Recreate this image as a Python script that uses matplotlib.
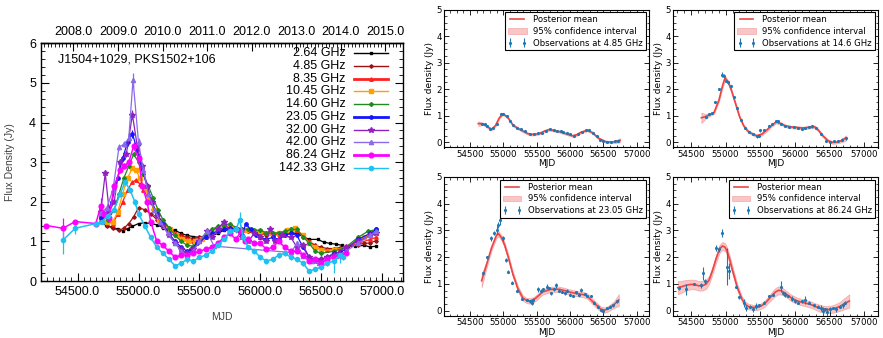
import matplotlib
matplotlib.use('Agg')
import matplotlib.pyplot as plt
from matplotlib.ticker import MultipleLocator, FormatStrFormatter, FixedLocator

# ---------------- Left panel data: (MJD, flux density [Jy], error [Jy]) ----------------
freq_labels = ['2.64 GHz', '4.85 GHz', '8.35 GHz', '10.45 GHz', '14.60 GHz',
               '23.05 GHz', '32.00 GHz', '42.00 GHz', '86.24 GHz', '142.33 GHz']

obs_264 = [(54690,1.48,.02),(54730,1.42,.02),(54780,1.36,.02),(54830,1.31,.02),(54870,1.27,.02),
           (54910,1.32,.02),(54950,1.38,.02),(55000,1.45,.02),(55050,1.47,.02),(55100,1.45,.02),
           (55150,1.42,.02),(55200,1.35,.02),(55250,1.30,.02),(55300,1.28,.02),(55350,1.20,.02),
           (55400,1.15,.02),(55450,1.12,.02),(55500,1.10,.02),(55550,1.12,.02),(55600,1.15,.02),
           (55650,1.20,.02),(55700,1.28,.02),(55750,1.30,.02),(55800,1.28,.02),(55850,1.25,.02),
           (55900,1.25,.02),(55950,1.22,.02),(56000,1.22,.02),(56050,1.20,.02),(56100,1.18,.02),
           (56150,1.18,.02),(56200,1.20,.02),(56250,1.22,.02),(56300,1.20,.02),(56350,1.12,.02),
           (56400,1.05,.02),(56470,1.05,.02),(56520,0.98,.02),(56570,0.95,.02),(56620,0.93,.02),
           (56670,0.90,.02),(56720,0.88,.02),(56780,0.88,.02),(56850,0.90,.02),(56900,0.86,.02),
           (56950,0.88,.02)]
obs_485 = [(54690,1.50,.02),(54740,1.40,.02),(54790,1.33,.02),(54840,1.28,.02),(54880,1.33,.02),
           (54920,1.45,.02),(54960,1.62,.02),(55000,1.85,.02),(55050,1.80,.02),(55100,1.70,.02),
           (55150,1.55,.02),(55200,1.40,.02),(55250,1.30,.02),(55300,1.22,.02),(55350,1.15,.02),
           (55400,1.10,.02),(55450,1.07,.02),(55500,1.10,.02),(55550,1.15,.02),(55600,1.20,.02),
           (55650,1.25,.02),(55700,1.32,.02),(55750,1.35,.02),(55800,1.30,.02),(55850,1.27,.02),
           (55900,1.25,.02),(55950,1.22,.02),(56000,1.20,.02),(56050,1.17,.02),(56100,1.15,.02),
           (56150,1.18,.02),(56200,1.22,.02),(56250,1.30,.02),(56300,1.25,.02),(56350,1.12,.02),
           (56400,1.00,.02),(56450,0.90,.02),(56500,0.85,.02),(56550,0.82,.02),(56600,0.82,.02),
           (56650,0.84,.02),(56700,0.86,.02),(56800,0.92,.02),(56850,0.95,.02),(56900,0.96,.02),
           (56950,1.02,.02)]
obs_835 = [(54690,1.55,.02),(54740,1.50,.02),(54790,1.45,.02),(54830,1.70,.03),(54870,2.00,.03),
           (54910,2.30,.03),(54950,2.50,.03),(54980,2.55,.03),(55010,2.45,.03),(55040,2.30,.03),
           (55080,2.10,.03),(55120,1.85,.03),(55160,1.60,.02),(55200,1.45,.02),(55250,1.35,.02),
           (55300,1.20,.02),(55350,1.12,.02),(55400,1.05,.02),(55450,1.02,.02),(55500,1.05,.02),
           (55550,1.12,.02),(55600,1.15,.02),(55650,1.25,.02),(55700,1.35,.02),(55750,1.40,.02),
           (55800,1.35,.02),(55850,1.30,.02),(55900,1.28,.02),(55950,1.25,.02),(56000,1.22,.02),
           (56050,1.20,.02),(56100,1.18,.02),(56150,1.18,.02),(56200,1.22,.02),(56250,1.30,.02),
           (56300,1.28,.02),(56350,1.15,.02),(56400,0.98,.02),(56450,0.85,.02),(56500,0.80,.02),
           (56550,0.78,.02),(56600,0.80,.02),(56650,0.82,.02),(56700,0.85,.02),(56800,0.95,.02),
           (56900,1.05,.02),(56950,1.10,.02)]
obs_1045 = [(54690,1.60,.03),(54740,1.50,.03),(54790,1.50,.03),(54830,1.75,.03),(54870,2.20,.03),
            (54910,2.60,.04),(54950,2.85,.04),(54980,2.80,.04),(55010,2.60,.04),(55050,2.35,.03),
            (55090,2.10,.03),(55130,1.80,.03),(55170,1.55,.03),(55210,1.40,.03),(55260,1.30,.03),
            (55310,1.15,.03),(55360,1.05,.03),(55410,1.00,.03),(55460,1.00,.03),(55520,1.05,.03),
            (55580,1.15,.03),(55640,1.28,.03),(55700,1.38,.03),(55760,1.35,.03),(55800,1.30,.03),
            (55880,1.28,.03),(55950,1.25,.03),(56000,1.25,.03),(56080,1.22,.03),(56150,1.22,.03),
            (56220,1.28,.03),(56280,1.35,.03),(56350,1.15,.03),(56400,0.95,.03),(56450,0.85,.03),
            (56500,0.78,.03),(56600,0.78,.03),(56700,0.85,.03),(56850,1.10,.03),(56950,1.20,.03)]
obs_1460 = [(54690,1.65,.03),(54750,1.55,.03),(54800,1.80,.03),(54840,2.20,.03),(54880,2.60,.04),
            (54920,2.90,.04),(54960,3.20,.05),(55000,3.00,.04),(55040,2.70,.04),(55080,2.40,.03),
            (55120,2.10,.03),(55160,1.80,.03),(55200,1.55,.03),(55250,1.35,.03),(55300,1.15,.03),
            (55350,1.00,.03),(55400,0.90,.03),(55450,0.88,.03),(55500,1.00,.03),(55550,1.15,.03),
            (55600,1.30,.03),(55650,1.38,.03),(55700,1.40,.03),(55750,1.45,.03),(55800,1.35,.03),
            (55850,1.32,.03),(55900,1.30,.03),(55950,1.28,.03),(56000,1.28,.03),(56050,1.22,.03),
            (56100,1.20,.03),(56150,1.22,.03),(56200,1.25,.03),(56250,1.30,.03),(56300,1.30,.03),
            (56350,1.12,.03),(56400,0.95,.03),(56450,0.75,.03),(56500,0.70,.03),(56600,0.75,.03),
            (56700,0.85,.03),(56800,1.10,.03),(56880,1.25,.03),(56950,1.30,.03)]
obs_2305 = [(54690,1.60,.03),(54740,1.70,.03),(54780,2.00,.04),(54830,2.60,.05),(54870,3.10,.06),
            (54910,3.50,.08),(54950,3.72,.10),(54990,3.30,.08),(55030,2.80,.06),(55070,2.40,.05),
            (55110,2.00,.04),(55150,1.70,.04),(55200,1.45,.03),(55250,1.20,.03),(55300,1.00,.03),
            (55350,0.85,.03),(55400,0.75,.03),(55430,0.80,.03),(55480,0.95,.03),(55550,1.10,.03),
            (55600,1.20,.03),(55650,1.25,.03),(55700,1.30,.03),(55750,1.35,.03),(55800,1.30,.03),
            (55850,1.15,.03),(55880,1.45,.04),(55920,1.30,.03),(55960,1.15,.03),(56000,1.10,.03),
            (56050,1.05,.03),(56100,1.10,.03),(56150,1.05,.03),(56200,1.15,.03),(56250,1.20,.03),
            (56300,1.15,.03),(56350,0.85,.03),(56400,0.60,.03),(56450,0.55,.03),(56500,0.55,.03),
            (56550,0.60,.03),(56600,0.70,.03),(56650,0.72,.03),(56700,0.80,.03),(56800,1.05,.03),
            (56900,1.20,.03),(56950,1.30,.03)]
obs_3200 = [(54690,1.75,.05),(54727,2.72,.08),(54760,1.75,.05),(54800,2.00,.05),(54850,3.00,.08),
            (54900,3.20,.08),(54950,4.20,.12),(54990,3.40,.10),(55030,2.90,.08),(55070,2.40,.06),
            (55110,2.00,.05),(55150,1.65,.05),(55200,1.40,.05),(55250,1.15,.05),(55300,0.95,.05),
            (55350,0.80,.05),(55400,0.70,.05),(55450,0.80,.05),(55500,1.00,.05),(55560,1.25,.05),
            (55600,1.10,.05),(55650,1.30,.05),(55700,1.50,.05),(55750,1.25,.05),(55800,1.30,.05),
            (55850,1.10,.05),(55900,1.00,.05),(55950,1.20,.05),(56000,1.10,.05),(56050,1.00,.05),
            (56080,1.30,.10),(56120,1.00,.05),(56180,1.15,.05),(56250,1.10,.05),(56300,0.85,.05),
            (56350,0.90,.05),(56400,0.60,.05),(56450,0.50,.05),(56500,0.55,.05),(56550,0.60,.05),
            (56600,0.65,.05),(56700,0.85,.05),(56800,1.00,.05),(56900,1.15,.05),(56950,1.20,.05)]
obs_4200 = [(54690,1.72,.05),(54740,1.85,.05),(54790,2.30,.05),(54840,3.38,.08),(54880,3.45,.08),
            (54920,3.60,.10),(54955,5.08,.18),(55000,3.50,.10),(55040,2.80,.08),(55080,2.20,.06),
            (55130,1.80,.05),(55180,1.50,.05),(55240,1.20,.05),(55300,0.95,.05),(55350,0.75,.05),
            (55400,0.65,.05),(55450,0.75,.05),(55500,1.00,.05),(55560,1.25,.05),(55620,0.88,.05),
            (56250,0.72,.05),(56300,0.95,.05),(56350,0.62,.05),(56420,0.50,.05),(56480,0.45,.05),
            (56550,0.55,.05),(56620,0.62,.05),(56700,0.75,.05),(56800,0.95,.05),(56900,1.15,.05),
            (56950,1.25,.05)]
obs_8624 = [(54245,1.40,.05),(54380,1.33,.25),(54480,1.50,.04),(54650,1.45,.05),(54690,1.90,.20),
            (54720,1.70,.08),(54760,1.60,.08),(54800,2.40,.08),(54850,2.80,.08),(54880,2.90,.08),
            (54920,3.00,.08),(54960,3.40,.10),(55000,3.10,.08),(55030,2.40,.08),(55070,2.00,.06),
            (55100,1.50,.05),(55150,1.00,.05),(55200,0.90,.05),(55250,0.75,.05),(55300,0.60,.05),
            (55350,0.65,.05),(55400,0.65,.05),(55450,0.70,.05),(55500,0.75,.05),(55550,0.80,.05),
            (55600,0.85,.05),(55650,0.95,.05),(55700,1.10,.05),(55750,1.20,.05),(55800,1.05,.05),
            (55840,1.25,.08),(55870,1.00,.05),(55900,1.05,.05),(55950,0.95,.05),(56000,0.95,.05),
            (56050,0.80,.05),(56100,0.85,.05),(56150,1.00,.05),(56200,0.85,.05),(56250,0.75,.05),
            (56300,0.75,.05),(56350,0.65,.05),(56400,0.50,.05),(56450,0.55,.05),(56500,0.45,.05),
            (56550,0.55,.05),(56600,0.60,.05),(56650,0.65,.05),(56700,0.70,.05)]
obs_14233 = [(54380,1.03,.35),(54480,1.33,.15),(54650,1.45,.05),(54700,1.50,.05),(54750,1.65,.05),
             (54800,1.80,.06),(54850,2.20,.08),(54890,2.50,.10),(54930,2.30,.08),(54970,2.00,.08),
             (55000,1.70,.08),(55050,1.40,.06),(55100,1.10,.06),(55150,0.85,.05),(55200,0.70,.05),
             (55250,0.55,.05),(55300,0.38,.06),(55350,0.45,.06),(55400,0.55,.10),(55450,0.50,.06),
             (55500,0.60,.05),(55550,0.65,.05),(55600,0.75,.05),(55650,0.90,.05),(55700,1.05,.05),
             (55750,1.25,.08),(55800,1.30,.08),(55830,1.55,.18),(55860,1.10,.08),(55900,0.85,.06),
             (55950,0.75,.06),(56000,0.60,.06),(56050,0.50,.06),(56100,0.55,.06),(56150,0.65,.06),
             (56200,0.70,.06),(56250,0.60,.06),(56300,0.55,.06),(56350,0.45,.06),(56400,0.25,.06),
             (56450,0.30,.06),(56500,0.35,.06),(56550,0.45,.06),(56600,0.50,.30),(56650,0.65,.20),
             (56680,0.60,.08)]

left_series = [obs_264, obs_485, obs_835, obs_1045, obs_1460,
               obs_2305, obs_3200, obs_4200, obs_8624, obs_14233]

# ---------------- Right panels: GP posterior (MJD, mean, 95% half-width) and observations ----------------
gp_485 = [(54624,0.70,0.09),(54698,0.69,0.04),(54760,0.58,0.04),(54822,0.49,0.04),(54880,0.62,0.04),
          (54940,0.92,0.04),(54996,1.07,0.04),(55070,0.92,0.04),(55145,0.64,0.04),(55220,0.52,0.04),
          (55293,0.42,0.04),(55360,0.33,0.04),(55417,0.29,0.04),(55480,0.30,0.04),(55541,0.33,0.04),
          (55620,0.42,0.04),(55690,0.48,0.04),(55760,0.44,0.04),(55839,0.40,0.04),(55938,0.32,0.04),
          (56037,0.24,0.04),(56100,0.28,0.04),(56161,0.37,0.04),(56260,0.45,0.04),(56335,0.36,0.04),
          (56434,0.14,0.04),(56533,0.02,0.04),(56633,0.00,0.04),(56707,0.04,0.06),(56750,0.07,0.08)]
pts_485 = [(54680,0.70,.03),(54720,0.68,.03),(54760,0.60,.03),(54800,0.50,.03),(54850,0.52,.03),
           (54900,0.70,.03),(54960,1.05,.03),(55000,1.06,.03),(55050,0.98,.03),(55100,0.80,.03),
           (55150,0.65,.03),(55200,0.55,.03),(55260,0.48,.03),(55320,0.42,.03),(55400,0.30,.03),
           (55460,0.30,.03),(55520,0.33,.03),(55580,0.36,.03),(55640,0.42,.03),(55700,0.50,.03),
           (55760,0.45,.03),(55800,0.44,.03),(55860,0.43,.03),(55900,0.40,.03),(55960,0.33,.03),
           (56000,0.30,.03),(56060,0.25,.03),(56120,0.30,.03),(56180,0.38,.03),(56240,0.45,.03),
           (56280,0.45,.03),(56340,0.35,.03),(56400,0.22,.03),(56450,0.10,.03),(56500,0.05,.03),
           (56560,0.02,.03),(56620,0.02,.03),(56680,0.03,.03),(56720,0.05,.03)]

gp_1460 = [(54650,0.92,0.20),(54714,0.97,0.08),(54780,1.05,0.05),(54833,1.12,0.05),(54905,1.60,0.06),
           (54952,2.10,0.08),(54990,2.42,0.08),(55040,2.25,0.07),(55090,1.90,0.06),(55143,1.45,0.05),
           (55200,0.97,0.05),(55260,0.62,0.05),(55320,0.42,0.05),(55381,0.32,0.05),(55450,0.24,0.05),
           (55520,0.30,0.05),(55590,0.45,0.05),(55667,0.64,0.05),(55730,0.76,0.05),(55800,0.70,0.05),
           (55857,0.62,0.05),(55930,0.58,0.05),(56000,0.56,0.05),(56080,0.54,0.05),(56143,0.54,0.05),
           (56220,0.57,0.05),(56286,0.58,0.05),(56340,0.45,0.05),(56400,0.25,0.05),(56476,0.06,0.05),
           (56540,-0.01,0.05),(56600,0.00,0.05),(56666,0.05,0.06),(56738,0.16,0.10)]
pts_1460 = [(54720,0.95,.04),(54760,1.05,.04),(54800,1.10,.04),(54850,1.50,.04),(54900,2.00,.05),
            (54950,2.55,.10),(54975,2.50,.06),(55000,2.30,.05),(55040,2.25,.05),(55080,2.10,.05),
            (55120,1.70,.04),(55170,1.30,.04),(55220,0.85,.04),(55280,0.55,.04),(55340,0.40,.04),
            (55400,0.30,.04),(55450,0.22,.06),(55480,0.25,.04),(55500,0.45,.06),(55550,0.45,.04),
            (55620,0.60,.04),(55670,0.70,.04),(55720,0.80,.05),(55760,0.78,.04),(55800,0.70,.04),
            (55860,0.60,.04),(55920,0.58,.04),(55980,0.58,.04),(56040,0.52,.04),(56100,0.50,.04),
            (56150,0.55,.04),(56200,0.58,.04),(56250,0.60,.05),(56300,0.55,.04),(56380,0.30,.04),
            (56450,0.05,.04),(56500,0.00,.04),(56560,0.05,.05),(56620,0.05,.04),(56680,0.10,.04),
            (56740,0.15,.05)]

gp_2305 = [(54674,1.12,0.25),(54748,1.72,0.12),(54823,2.35,0.10),(54897,2.82,0.10),(54930,2.87,0.10),
           (54975,2.72,0.10),(55020,2.45,0.10),(55070,2.04,0.10),(55145,1.35,0.10),(55219,0.82,0.10),
           (55293,0.47,0.10),(55350,0.38,0.10),(55393,0.36,0.10),(55450,0.40,0.10),(55492,0.48,0.10),
           (55591,0.70,0.10),(55716,0.80,0.10),(55839,0.80,0.10),(55920,0.75,0.10),(55988,0.70,0.10),
           (56060,0.66,0.10),(56137,0.62,0.10),(56200,0.60,0.10),(56260,0.54,0.10),(56360,0.29,0.10),
           (56460,0.06,0.10),(56510,0.02,0.10),(56559,0.05,0.10),(56658,0.22,0.12),(56732,0.40,0.22)]
pts_2305 = [(54700,1.40,.06),(54760,2.00,.06),(54810,2.70,.08),(54860,2.90,.08),(54900,3.00,.15),
            (54920,3.20,.10),(54950,3.40,.20),(54990,2.70,.08),(55040,1.90,.08),(55070,1.45,.06),
            (55130,1.05,.05),(55200,0.75,.05),(55280,0.45,.05),(55350,0.40,.05),(55400,0.35,.05),
            (55430,0.30,.10),(55450,0.40,.06),(55520,0.80,.10),(55560,0.75,.05),(55600,0.80,.05),
            (55650,0.90,.10),(55680,0.85,.05),(55720,0.65,.06),(55760,0.80,.05),(55790,0.95,.10),
            (55840,0.75,.06),(55880,0.70,.05),(55920,0.65,.05),(55960,0.75,.05),(56000,0.60,.05),
            (56050,0.55,.05),(56090,0.68,.05),(56140,0.60,.05),(56170,0.78,.08),(56220,0.62,.05),
            (56260,0.55,.05),(56310,0.55,.05),(56360,0.30,.05),(56420,0.15,.05),(56460,0.02,.05),
            (56500,0.00,.08),(56560,0.10,.05),(56600,0.15,.05),(56640,0.20,.05),(56700,0.35,.05)]

gp_8624 = [(54309,0.86,0.25),(54370,0.90,0.22),(54429,0.95,0.20),(54490,0.98,0.18),(54548,0.98,0.18),
           (54610,0.93,0.18),(54666,0.93,0.18),(54720,1.00,0.18),(54762,1.15,0.15),(54810,1.50,0.15),
           (54857,1.90,0.15),(54910,2.30,0.15),(54952,2.42,0.15),(54990,2.38,0.15),(55024,2.20,0.15),
           (55060,1.90,0.15),(55095,1.55,0.15),(55167,0.88,0.12),(55238,0.42,0.10),(55290,0.22,0.10),
           (55333,0.15,0.10),(55400,0.12,0.10),(55452,0.12,0.10),(55510,0.17,0.10),(55571,0.28,0.12),
           (55620,0.42,0.12),(55667,0.56,0.14),(55720,0.70,0.15),(55762,0.76,0.15),(55800,0.75,0.15),
           (55857,0.66,0.12),(55910,0.55,0.12),(55952,0.47,0.12),(56030,0.37,0.12),(56095,0.32,0.12),
           (56170,0.27,0.12),(56238,0.22,0.12),(56300,0.15,0.12),(56357,0.09,0.13),(56420,0.05,0.13),
           (56476,0.04,0.13),(56540,0.06,0.14),(56595,0.10,0.15),(56650,0.16,0.17),(56700,0.24,0.20),
           (56786,0.36,0.25)]
pts_8624 = [(54320,0.85,.08),(54430,0.80,.20),(54550,1.00,.05),(54640,0.95,.10),(54670,1.40,.25),
            (54700,1.10,.10),(54860,2.35,.10),(54900,2.30,.10),(54950,2.90,.15),(55020,1.65,.70),
            (55050,1.50,.30),(55150,0.90,.05),(55200,0.50,.05),(55270,0.30,.15),(55300,0.10,.10),
            (55350,0.15,.05),(55400,0.05,.10),(55440,0.18,.10),(55480,0.20,.05),(55560,0.30,.05),
            (55620,0.55,.05),(55680,0.60,.05),(55800,0.90,.20),(55830,0.65,.05),(55860,0.60,.10),
            (55900,0.55,.05),(55960,0.45,.10),(56000,0.35,.05),(56050,0.30,.05),(56100,0.35,.05),
            (56150,0.40,.15),(56200,0.30,.05),(56270,0.20,.05),(56330,0.15,.05),(56370,0.10,.10),
            (56400,0.00,.15),(56430,0.05,.05),(56470,-0.05,.15),(56500,0.05,.10),(56550,0.10,.05),
            (56600,0.05,.10),(56650,0.15,.05),(56700,0.20,.10),(56730,0.30,.05)]

gp_labels = ['4.85 GHz', '14.6 GHz', '23.05 GHz', '86.24 GHz']
gp_curves = [gp_485, gp_1460, gp_2305, gp_8624]
gp_points = [pts_485, pts_1460, pts_2305, pts_8624]

# ---------------- Figure ----------------
W, H = 883, 338
fig = plt.figure(figsize=(W / 100, H / 100), dpi=100)

def rect(l, t, r, b):
    return [l / W, 1 - b / H, (r - l) / W, (b - t) / H]

LFONT = ['Liberation Sans', 'DejaVu Sans']
styles = [('#000000', 's', 2.0, 0.9), ('#a01010', 'D', 1.8, 0.9), ('#ff2020', '^', 2.5, 0.9),
          ('#ffa000', 's', 2.5, 0.9), ('#208a20', 'D', 2.0, 0.9), ('#1515ff', 'o', 2.4, 0.9),
          ('#9020c0', '*', 3.8, 0.9), ('#8a6ae8', '^', 3.0, 0.9), ('#ff00ff', 'o', 3.4, 1.1),
          ('#20c0f0', 'o', 3.0, 1.1)]
legend_lw = [1.0, 1.0, 2.0, 1.0, 1.0, 2.0, 1.0, 1.0, 2.0, 1.0]

ax = fig.add_axes(rect(41, 43.3, 403, 281))
for data, (c, mk, ms, lw) in zip(left_series, styles):
    xs = [d[0] for d in data]
    ys = [d[1] for d in data]
    es = [d[2] for d in data]
    ax.errorbar(xs, ys, yerr=es, color=c, marker=mk, ms=ms, mec=c, mfc=c, lw=lw,
                elinewidth=0.9, capsize=0)
ax.set_xlim(54200, 57170)
ax.set_ylim(0, 6)
ax.xaxis.set_major_locator(FixedLocator([54500, 55000, 55500, 56000, 56500, 57000]))
ax.xaxis.set_major_formatter(FormatStrFormatter('%.1f'))
ax.xaxis.set_minor_locator(MultipleLocator(50))
ax.yaxis.set_major_locator(MultipleLocator(1))
ax.yaxis.set_minor_locator(MultipleLocator(0.2))
ax.tick_params(which='both', direction='in', top=False, right=True, labelsize=9)
ax.tick_params(which='major', length=6, width=0.8)
ax.tick_params(which='minor', length=3, width=0.6)
for t in ax.get_xticklabels() + ax.get_yticklabels():
    t.set_family(LFONT)
ax.set_xlabel('MJD', fontsize=7.5, family=LFONT, color='#404040', labelpad=10)
ax.set_ylabel('Flux Density (Jy)', fontsize=7.5, family=LFONT, color='#404040', labelpad=10)
for s in ax.spines.values():
    s.set_linewidth(1.0)

def mjd2yr(m):
    return 2000.0 + (m - 51544.5) / 365.25

def yr2mjd(y):
    return 51544.5 + (y - 2000.0) * 365.25

sec = ax.secondary_xaxis('top', functions=(mjd2yr, yr2mjd))
sec.xaxis.set_major_locator(FixedLocator([2008, 2009, 2010, 2011, 2012, 2013, 2014, 2015]))
sec.xaxis.set_major_formatter(FormatStrFormatter('%.1f'))
sec.xaxis.set_minor_locator(MultipleLocator(1 / 12))
sec.tick_params(which='both', direction='in', labelsize=9)
sec.tick_params(which='major', length=6, width=0.8)
sec.tick_params(which='minor', length=3, width=0.6)
for t in sec.get_xticklabels():
    t.set_family(LFONT)
sec.spines['top'].set_linewidth(1.0)

ax.text(17.3 / 362, 1 - (60 - 43.3) / 237.7, 'J1504+1029, PKS1502+106', transform=ax.transAxes,
        ha='left', va='center', fontsize=9, family=LFONT)

# manual gnuplot-like key
for i, (lab, (c, mk, ms, lw)) in enumerate(zip(freq_labels, styles)):
    ypx = 53.3 + 12.7 * i
    ay = 1 - (ypx - 43.3) / 237.7
    ax.text((345.7 - 41) / 362, ay, lab, transform=ax.transAxes, ha='right', va='center',
            fontsize=9, family=LFONT)
    ax.plot([(354 - 41) / 362, (388 - 41) / 362], [ay, ay], transform=ax.transAxes,
            color=c, lw=legend_lw[i], clip_on=False)
    ax.plot([(371 - 41) / 362], [ay], transform=ax.transAxes, color=c, marker=mk,
            ms=ms, mec=c, clip_on=False)

# ---------------- Right panels ----------------
rects = [rect(444, 9.5, 649, 147.5), rect(673, 9.5, 878, 147.5),
         rect(444, 177, 649, 316), rect(673, 177, 878, 316)]
xlims = [(54110, 57185), (54240, 57200), (54110, 57185), (54240, 57200)]
RFONT = ['DejaVu Sans']
for r, xl, curve, pts, lab in zip(rects, xlims, gp_curves, gp_points, gp_labels):
    a = fig.add_axes(r)
    cx = [d[0] for d in curve]
    cm = [d[1] for d in curve]
    lo = [d[1] - d[2] for d in curve]
    hi = [d[1] + d[2] for d in curve]
    a.fill_between(cx, lo, hi, color='#f5a0a0', alpha=0.6, lw=0.5, edgecolor='#f08080',
                   label='95% confidence interval')
    a.plot(cx, cm, color='#ee4444', lw=1.2, label='Posterior mean')
    px = [d[0] for d in pts]
    py = [d[1] for d in pts]
    pe = [d[2] for d in pts]
    a.errorbar(px, py, yerr=pe, fmt='.', color='#1f77b4', ms=2.5, elinewidth=0.8, capsize=0,
               label='Observations at ' + lab)
    a.set_xlim(*xl)
    a.set_ylim(-0.2, 5)
    a.xaxis.set_major_locator(FixedLocator([54500, 55000, 55500, 56000, 56500, 57000]))
    a.xaxis.set_minor_locator(MultipleLocator(100))
    a.yaxis.set_major_locator(MultipleLocator(1))
    a.yaxis.set_minor_locator(MultipleLocator(0.25))
    a.tick_params(which='both', direction='in', top=True, right=True, labelsize=6.2, pad=1.5)
    a.tick_params(which='major', length=3.5, width=0.6)
    a.tick_params(which='minor', length=1.8, width=0.5)
    a.set_xlabel('MJD', fontsize=6.5, labelpad=0.5, family=RFONT)
    a.set_ylabel('Flux density (Jy)', fontsize=6.5, labelpad=2, family=RFONT)
    for s in a.spines.values():
        s.set_linewidth(0.8)
    h, l = a.get_legend_handles_labels()
    order = [l.index('Posterior mean'), l.index('95% confidence interval'),
             l.index('Observations at ' + lab)]
    leg = a.legend([h[k] for k in order], [l[k] for k in order], loc='upper right',
                   fontsize=6.1, numpoints=2, fancybox=False, framealpha=1,
                   edgecolor='black', borderaxespad=0.35, handlelength=2.2,
                   labelspacing=0.3, borderpad=0.35)
    leg.get_frame().set_linewidth(0.8)

fig.savefig('out.png', dpi=100)
